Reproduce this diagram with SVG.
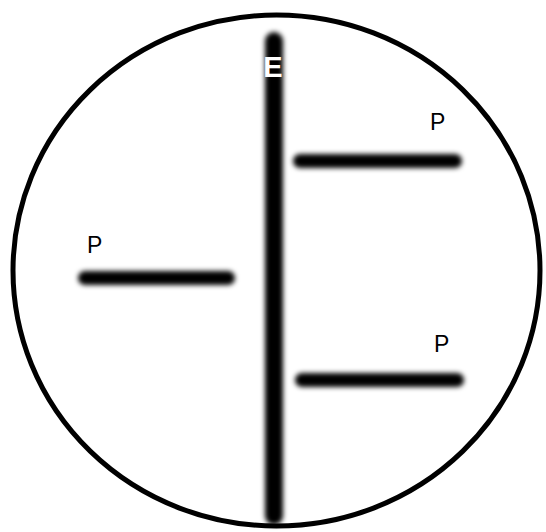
<svg xmlns="http://www.w3.org/2000/svg" width="546" height="532" viewBox="0 0 546 532">
<defs>
<style>
.bar{stroke:#000;stroke-linecap:round;fill:none;filter:url(#blur)}
.lbl{font-family:"Liberation Sans",Arial,sans-serif;font-size:23px;fill:#000}
</style>
<filter id="blur" filterUnits="userSpaceOnUse" x="0" y="0" width="546" height="532"><feGaussianBlur stdDeviation="2.4"/></filter>
</defs>
<rect width="546" height="532" fill="#fff"/>
<ellipse id="circle" cx="276.5" cy="270.5" rx="263.5" ry="255.5" fill="none" stroke="#000" stroke-width="5"/>
<g id="connectors">
<line class="bar" x1="274" y1="41" x2="274" y2="516" stroke-width="18"/>
<line class="bar" x1="85" y1="278" x2="228" y2="278" stroke-width="14"/>
<line class="bar" x1="300" y1="161" x2="455" y2="161" stroke-width="14"/>
<line class="bar" x1="302" y1="380" x2="457" y2="380" stroke-width="14"/>
</g>
<g id="E"><text x="273" y="77" text-anchor="middle" font-family="Liberation Sans,Arial,sans-serif" font-weight="bold" font-size="29" fill="#fff">E</text></g>
<g id="P1"><text class="lbl" x="430" y="130">P</text></g>
<g id="P2"><text class="lbl" x="87" y="253">P</text></g>
<g id="P3"><text class="lbl" x="434" y="352">P</text></g>
</svg>
